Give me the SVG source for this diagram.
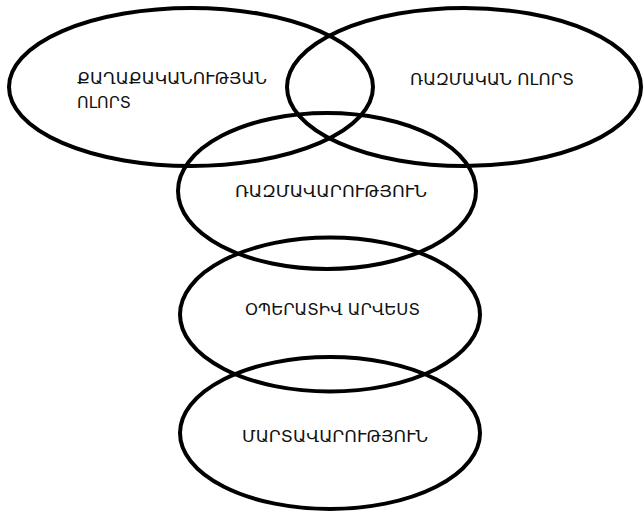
<svg xmlns="http://www.w3.org/2000/svg" width="644" height="511" viewBox="0 0 644 511">
<style>
.e{fill:none;stroke:#000;stroke-width:4}
.t{font-family:"DejaVu Sans","Noto Sans",sans-serif;font-size:15px;fill:#111}
</style>
<rect width="644" height="511" fill="#fff"/>
<g id="politics">
<ellipse class="e" cx="191" cy="87" rx="182" ry="79"/>
<text class="t" x="77" y="84" textLength="190" lengthAdjust="spacingAndGlyphs">ՔԱՂԱՔԱԿԱՆՈՒԹՅԱՆ</text>
<text class="t" x="77" y="108" textLength="54" lengthAdjust="spacingAndGlyphs">ՈԼՈՐՏ</text>
</g>
<g id="military">
<ellipse class="e" cx="464" cy="87" rx="177" ry="79"/>
<text class="t" x="410" y="85" textLength="164" lengthAdjust="spacingAndGlyphs">ՌԱԶՄԱԿԱՆ ՈԼՈՐՏ</text>
</g>
<g id="strategy">
<ellipse class="e" cx="327" cy="191" rx="149" ry="78"/>
<text class="t" x="235" y="197" textLength="192" lengthAdjust="spacingAndGlyphs">ՌԱԶՄԱՎԱՐՈՒԹՅՈՒՆ</text>
</g>
<g id="operational">
<ellipse class="e" cx="330" cy="314.5" rx="150" ry="77"/>
<text class="t" x="245" y="315" textLength="175" lengthAdjust="spacingAndGlyphs">ՕՊԵՐԱՏԻՎ ԱՐՎԵՍՏ</text>
</g>
<g id="tactics">
<ellipse class="e" cx="330" cy="433" rx="150" ry="76"/>
<text class="t" x="242" y="442" textLength="186" lengthAdjust="spacingAndGlyphs">ՄԱՐՏԱՎԱՐՈՒԹՅՈՒՆ</text>
</g>
<g id="connectors"/>
</svg>
